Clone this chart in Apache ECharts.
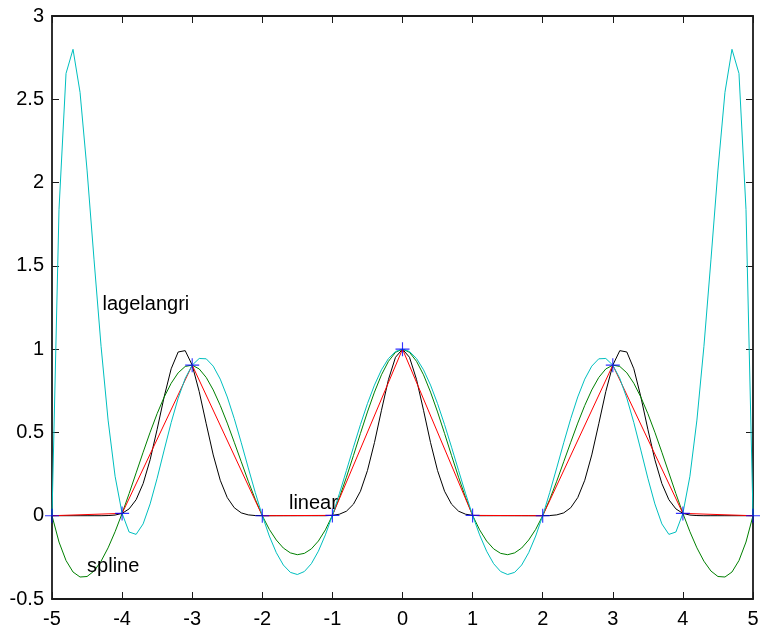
<!DOCTYPE html>
<html>
<head>
<meta charset="utf-8">
<script src="https://cdn.jsdelivr.net/npm/echarts@6.0.0/dist/echarts.min.js"></script>
<style>
html, body { margin: 0; padding: 0; background: #fff; }
#main { width: 763px; height: 627px; }
</style>
</head>
<body>
<div id="main"></div>
<script>
// sample grid (x) used by the fine curves
let xFine = [-5, -4.9, -4.8, -4.7, -4.6, -4.5, -4.4, -4.3, -4.2, -4.1,
  -4, -3.9, -3.8, -3.7, -3.6, -3.5, -3.4, -3.3, -3.2, -3.1,
  -3, -2.9, -2.8, -2.7, -2.6, -2.5, -2.4, -2.3, -2.2, -2.1,
  -2, -1.9, -1.8, -1.7, -1.6, -1.5, -1.4, -1.3, -1.2, -1.1,
  -1, -0.9, -0.8, -0.7, -0.6, -0.5, -0.4, -0.3, -0.2, -0.1,
  0,
  0.1, 0.2, 0.3, 0.4, 0.5, 0.6, 0.7, 0.8, 0.9, 1,
  1.1, 1.2, 1.3, 1.4, 1.5, 1.6, 1.7, 1.8, 1.9, 2,
  2.1, 2.2, 2.3, 2.4, 2.5, 2.6, 2.7, 2.8, 2.9, 3,
  3.1, 3.2, 3.3, 3.4, 3.5, 3.6, 3.7, 3.8, 3.9, 4,
  4.1, 4.2, 4.3, 4.4, 4.5, 4.6, 4.7, 4.8, 4.9, 5];

// black: original curve
let yOrig = [0, 0, 0, 0, 0, 0, 0, 0, 0.001, 0.004,
  0.014, 0.041, 0.096, 0.193, 0.336, 0.519, 0.714, 0.882, 0.983, 0.991,
  0.904, 0.745, 0.552, 0.365, 0.213, 0.109, 0.048, 0.017, 0.005, 0.001,
  0, 0, 0, 0, 0, 0, 0, 0, 0, 0,
  0.002, 0.009, 0.027, 0.069, 0.147, 0.271, 0.439, 0.633, 0.818, 0.951,
  1,
  0.951, 0.818, 0.633, 0.439, 0.271, 0.147, 0.069, 0.027, 0.009, 0.002,
  0, 0, 0, 0, 0, 0, 0, 0, 0, 0,
  0.001, 0.005, 0.017, 0.048, 0.109, 0.213, 0.365, 0.552, 0.745, 0.904,
  0.991, 0.983, 0.882, 0.714, 0.519, 0.336, 0.193, 0.096, 0.041, 0.014,
  0.004, 0.001, 0, 0, 0, 0, 0, 0, 0, 0];

// green: spline
let ySpline = [0, -0.158, -0.269, -0.338, -0.368, -0.365, -0.332, -0.273, -0.193, -0.096,
  0.014, 0.133, 0.257, 0.381, 0.501, 0.613, 0.712, 0.795, 0.858, 0.896,
  0.904, 0.881, 0.830, 0.755, 0.662, 0.556, 0.441, 0.324, 0.207, 0.098,
  0, -0.082, -0.146, -0.194, -0.223, -0.234, -0.226, -0.199, -0.152, -0.085,
  0.002, 0.109, 0.231, 0.361, 0.494, 0.623, 0.742, 0.846, 0.927, 0.981,
  1,
  0.981, 0.927, 0.846, 0.742, 0.623, 0.494, 0.361, 0.231, 0.109, 0.002,
  -0.085, -0.152, -0.199, -0.226, -0.234, -0.223, -0.194, -0.146, -0.082, 0,
  0.098, 0.207, 0.324, 0.441, 0.556, 0.662, 0.755, 0.830, 0.881, 0.904,
  0.896, 0.858, 0.795, 0.712, 0.613, 0.501, 0.381, 0.257, 0.133, 0.014,
  -0.096, -0.193, -0.273, -0.332, -0.365, -0.368, -0.338, -0.269, -0.158, 0];

// cyan: lagrange
let yLagrange = [0, 1.839, 2.655, 2.800, 2.542, 2.075, 1.536, 1.017, 0.574, 0.237,
  0.014, -0.098, -0.112, -0.049, 0.071, 0.225, 0.394, 0.559, 0.706, 0.824,
  0.904, 0.944, 0.942, 0.898, 0.820, 0.713, 0.583, 0.438, 0.287, 0.139,
  0, -0.122, -0.222, -0.296, -0.340, -0.353, -0.335, -0.288, -0.213, -0.115,
  0.002, 0.133, 0.271, 0.411, 0.547, 0.673, 0.784, 0.876, 0.944, 0.986,
  1,
  0.986, 0.944, 0.876, 0.784, 0.673, 0.547, 0.411, 0.271, 0.133, 0.002,
  -0.115, -0.213, -0.288, -0.335, -0.353, -0.340, -0.296, -0.222, -0.122, 0,
  0.139, 0.287, 0.438, 0.583, 0.713, 0.820, 0.898, 0.942, 0.944, 0.904,
  0.824, 0.706, 0.559, 0.394, 0.225, 0.071, -0.049, -0.112, -0.098, 0.014,
  0.237, 0.574, 1.017, 1.536, 2.075, 2.542, 2.800, 2.655, 1.839, 0];

// nodes (blue +) and red linear line
let xNode = [-5, -4, -3, -2, -1, 0, 1, 2, 3, 4, 5];
let yNode = [0, 0.014, 0.904, 0, 0.002, 1, 0.002, 0, 0.904, 0.014, 0];

// text notes
let noteText = ['lagelangri', 'linear', 'spline'];
let noteX = [-4.28, -1.62, -4.5];
let noteY = [1.27, 0.075, -0.306];

let xTicks = { min: -5, max: 5, interval: 1 };
let yTicks = { min: -0.5, max: 3, interval: 0.5 };

function pairs(xs, ys) {
  return xs.map((x, i) => [x, ys[i]]);
}

let font = 'Liberation Sans, Arial, sans-serif';
let frame = { show: true, onZero: false, lineStyle: { color: '#1a1a1a', width: 1.8 } };
let tick = { show: true, inside: true, length: 7, lineStyle: { color: '#1a1a1a', width: 1 } };

let chart = echarts.init(document.getElementById('main'));
chart.setOption({
  animation: false,
  backgroundColor: '#fff',
  grid: { left: 52, right: 10, top: 16, bottom: 28, containLabel: false, outerBoundsMode: 'none' },
  xAxis: [{
    type: 'value', position: 'bottom', min: xTicks.min, max: xTicks.max, interval: xTicks.interval,
    axisLine: frame, axisTick: tick, splitLine: { show: false },
    axisLabel: { color: '#000', fontSize: 20, fontFamily: font, margin: 10, showMinLabel: true, showMaxLabel: true }
  }, {
    type: 'value', position: 'top', min: xTicks.min, max: xTicks.max, interval: xTicks.interval,
    axisLine: frame, axisTick: tick, splitLine: { show: false }, axisLabel: { show: false }
  }],
  yAxis: [{
    type: 'value', position: 'left', min: yTicks.min, max: yTicks.max, interval: yTicks.interval,
    axisLine: frame, axisTick: tick, splitLine: { show: false },
    axisLabel: { color: '#000', fontSize: 20, fontFamily: font, margin: 8, padding: [4, 0, 0, 0], showMinLabel: true, showMaxLabel: true }
  }, {
    type: 'value', position: 'right', min: yTicks.min, max: yTicks.max, interval: yTicks.interval,
    axisLine: frame, axisTick: tick, splitLine: { show: false }, axisLabel: { show: false }
  }],
  series: [{
    name: 'orig', type: 'line', data: pairs(xFine, yOrig), symbol: 'none',
    lineStyle: { color: '#000', width: 1 }, z: 2
  }, {
    name: 'spline', type: 'line', data: pairs(xFine, ySpline), symbol: 'none',
    lineStyle: { color: '#008000', width: 1 }, z: 3
  }, {
    name: 'linear', type: 'line', data: pairs(xNode, yNode), symbol: 'none',
    lineStyle: { color: '#ff0000', width: 1 }, z: 4
  }, {
    name: 'lagrange', type: 'line', data: pairs(xFine, yLagrange), symbol: 'none',
    lineStyle: { color: '#00bfbf', width: 1 }, z: 5
  }, {
    name: 'nodes', type: 'scatter', data: pairs(xNode, yNode),
    symbol: 'path://M9.2,0H10.8V9.2H20V10.8H10.8V20H9.2V10.8H0V9.2H9.2Z',
    symbolSize: 14, itemStyle: { color: '#0000ff' }, z: 6, silent: true
  }, {
    name: 'notes', type: 'scatter', silent: true, z: 7,
    data: noteText.map((t, i) => ({ name: t, value: [noteX[i], noteY[i]] })),
    symbolSize: 0.1, itemStyle: { color: '#000', opacity: 1 },
    label: {
      show: true, position: 'right', distance: 0, formatter: (p) => p.name,
      color: '#000', opacity: 1, fontSize: 20, fontFamily: font
    }
  }]
});
</script>
</body>
</html>
